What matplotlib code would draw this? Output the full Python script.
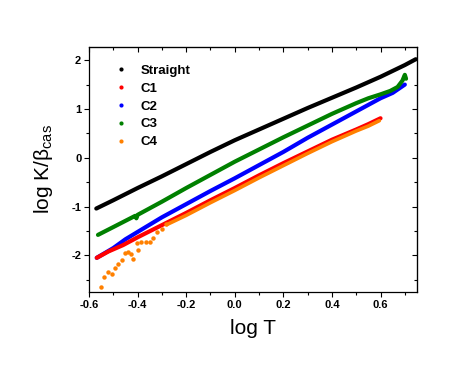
import matplotlib
matplotlib.use("Agg")
import matplotlib.pyplot as plt
from matplotlib.ticker import MultipleLocator

# ---- data ----
straight_x = [-0.57, -0.50, -0.40, -0.30, -0.20, -0.10, 0.00, 0.10, 0.20, 0.30, 0.40, 0.50, 0.60, 0.70, 0.745]
straight_y = [-1.04, -0.87, -0.62, -0.38, -0.13, 0.12, 0.36, 0.58, 0.80, 1.02, 1.23, 1.44, 1.66, 1.90, 2.02]

c1_x = [-0.568, -0.52, -0.46, -0.40, -0.30, -0.20, -0.10, 0.00, 0.10, 0.20, 0.30, 0.40, 0.50, 0.55, 0.60]
c1_y = [-2.05, -1.92, -1.79, -1.63, -1.38, -1.13, -0.87, -0.62, -0.36, -0.11, 0.13, 0.37, 0.58, 0.69, 0.81]

c2_x = [-0.568, -0.50, -0.45, -0.40, -0.30, -0.20, -0.10, 0.00, 0.10, 0.20, 0.30, 0.40, 0.50, 0.60, 0.65, 0.70]
c2_y = [-2.05, -1.85, -1.67, -1.52, -1.22, -0.95, -0.68, -0.42, -0.15, 0.12, 0.41, 0.68, 0.95, 1.22, 1.33, 1.50]

c3_x = [-0.563, -0.50, -0.41, -0.405, -0.40, -0.30, -0.20, -0.10, 0.00, 0.10, 0.20, 0.30, 0.40, 0.50,
        0.55, 0.60, 0.64, 0.67, 0.69, 0.70, 0.705]
c3_y = [-1.58, -1.42, -1.19, -1.24, -1.17, -0.90, -0.62, -0.35, -0.08, 0.17, 0.42, 0.66, 0.90, 1.12,
        1.22, 1.30, 1.37, 1.45, 1.58, 1.70, 1.62]

# C4: scattered low-T points, then the dense part
c4_scatter_x = [-0.552, -0.537, -0.521, -0.507, -0.493, -0.480, -0.466, -0.452, -0.439, -0.428, -0.418,
                -0.404, -0.398, -0.384, -0.366, -0.350, -0.338, -0.322, -0.300, -0.281]
c4_scatter_y = [-2.65, -2.45, -2.34, -2.39, -2.25, -2.17, -2.10, -1.95, -1.93, -1.98, -2.08,
                -1.75, -1.88, -1.73, -1.72, -1.73, -1.64, -1.52, -1.45, -1.35]
c4_x = [-0.28, -0.20, -0.10, 0.00, 0.10, 0.20, 0.30, 0.40, 0.50, 0.55, 0.595]
c4_y = [-1.37, -1.18, -0.92, -0.67, -0.41, -0.16, 0.09, 0.33, 0.55, 0.65, 0.76]

labels = ["Straight", "C1", "C2", "C3", "C4"]
colors = ["#000000", "#ff0000", "#0000ff", "#008000", "#ff8000"]

plt.rcParams["font.family"] = ["Liberation Sans", "DejaVu Sans"]

fig = plt.figure(figsize=(4.63, 3.67), dpi=100)
ax = fig.add_axes([0.1922, 0.2044, 0.7084, 0.6675])

lw = 3.0
ax.plot(straight_x, straight_y, color=colors[0], lw=lw, solid_capstyle="round")
ax.plot(c2_x, c2_y, color=colors[2], lw=lw, solid_capstyle="round")
ax.plot(c3_x, c3_y, color=colors[3], lw=lw, solid_capstyle="round")
ax.plot(c1_x, c1_y, color=colors[1], lw=lw, solid_capstyle="round")
ax.plot(c4_x, c4_y, color=colors[4], lw=lw - 0.4, solid_capstyle="round")
ax.plot(c4_scatter_x, c4_scatter_y, "o", color=colors[4], ms=3.2, mec="none")

# legend handles: small dots only
for lab, col in zip(labels, colors):
    ax.plot([], [], "o", color=col, ms=3, mec="none", label=lab)
leg = ax.legend(loc="upper left", bbox_to_anchor=(0.05, 0.965), frameon=False,
                prop={"weight": "bold", "size": 9.5}, handlelength=1.0,
                handletextpad=0.95, labelspacing=0.42, borderaxespad=0.3)

ax.set_xlim(-0.6, 0.75)
ax.set_ylim(-2.75, 2.27)
ax.xaxis.set_minor_locator(MultipleLocator(0.1))
ax.yaxis.set_minor_locator(MultipleLocator(0.5))
ax.set_xticks([-0.6, -0.4, -0.2, 0.0, 0.2, 0.4, 0.6])
ax.set_xticklabels(["-0.6", "-0.4", "-0.2", "0.0", "0.2", "0.4", "0.6"])
ax.set_yticks([-2, -1, 0, 1, 2])
ax.set_yticklabels(["-2", "-1", "0", "1", "2"])

ax.tick_params(which="major", direction="out", length=3.5, width=0.8, labelsize=8, pad=2)
ax.tick_params(which="minor", direction="out", length=2, width=0.8)
for lab in ax.get_xticklabels() + ax.get_yticklabels():
    lab.set_fontweight("bold")
for sp in ax.spines.values():
    sp.set_linewidth(0.9)

# mirrored inward ticks on top and right
top = ax.secondary_xaxis("top")
top.xaxis.set_major_locator(MultipleLocator(0.2))
top.xaxis.set_minor_locator(MultipleLocator(0.1))
top.tick_params(which="major", direction="in", length=3.5, width=0.8, labeltop=False)
top.tick_params(which="minor", direction="in", length=2, width=0.8)
right = ax.secondary_yaxis("right")
right.yaxis.set_major_locator(MultipleLocator(1))
right.yaxis.set_minor_locator(MultipleLocator(0.5))
right.tick_params(which="major", direction="in", length=3.5, width=0.8, labelright=False)
right.tick_params(which="minor", direction="in", length=2, width=0.8)

ax.set_xlabel("log T", fontsize=15, labelpad=7)
ax.set_ylabel("log K/β$_{\\mathregular{cas}}$", fontsize=15, labelpad=12)

fig.savefig("out.png", dpi=100)
